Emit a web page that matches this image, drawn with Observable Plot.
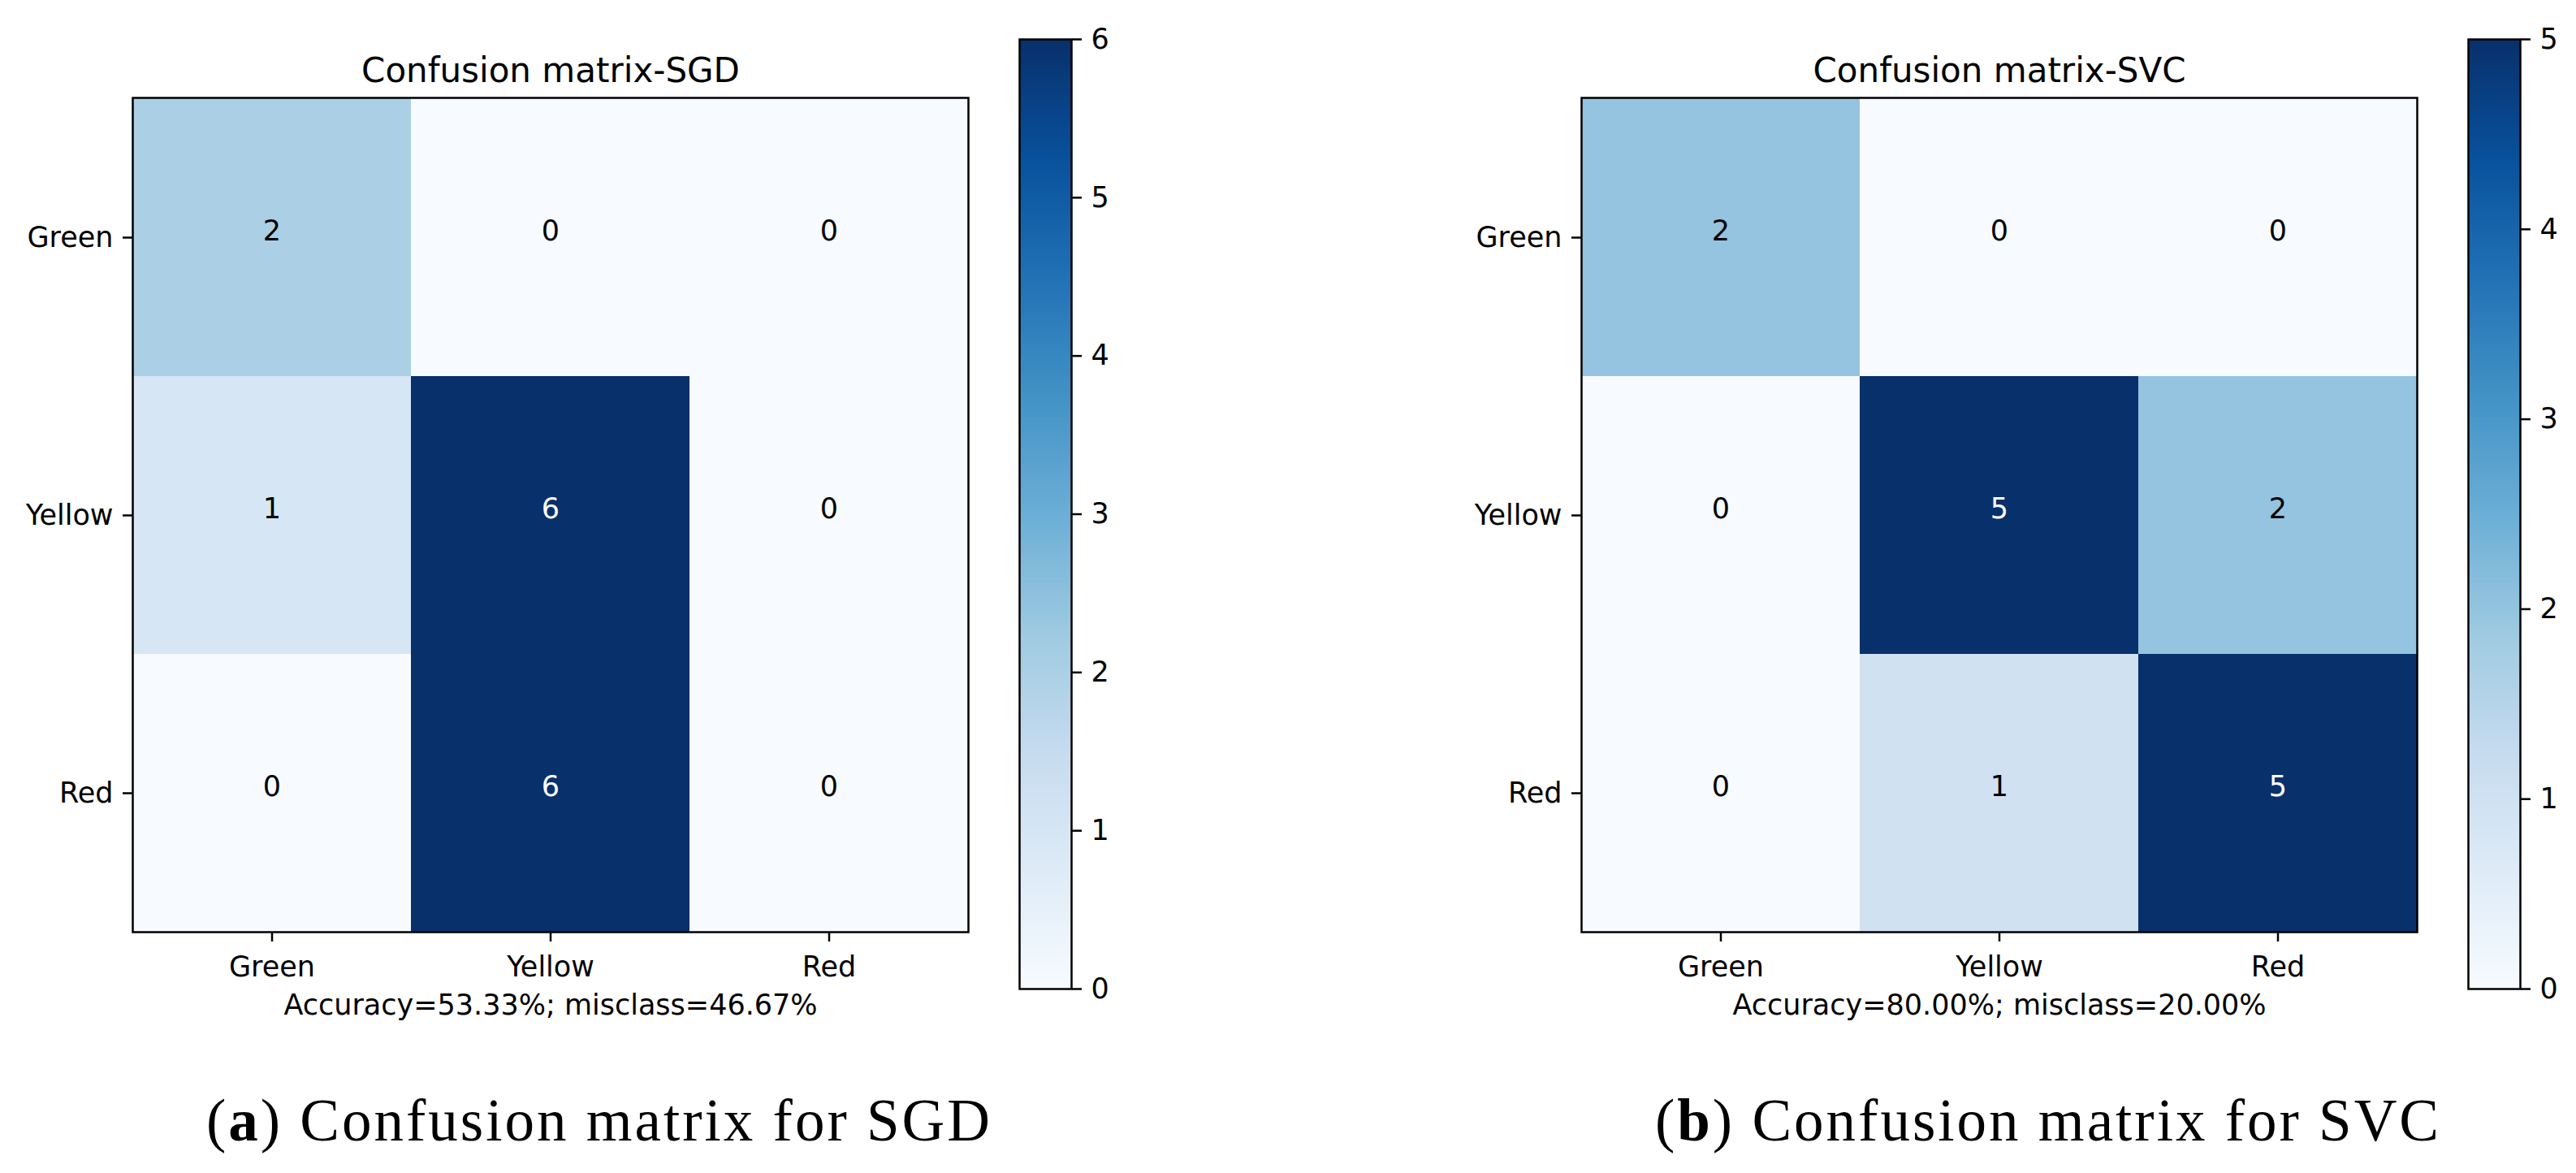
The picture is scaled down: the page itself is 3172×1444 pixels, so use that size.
<!DOCTYPE html>
<html>
<head>
<meta charset="utf-8">
<script src="https://cdn.jsdelivr.net/npm/d3@7"></script>
<script src="https://cdn.jsdelivr.net/npm/@observablehq/plot@0.6"></script>
<style>
  html, body { margin: 0; padding: 0; background: #fff; }
  #page { position: relative; width: 3172px; height: 1444px; background: #fff; overflow: hidden; }
  .abs { position: absolute; }
  .caption { position: absolute; font-family: "Liberation Serif", serif; font-size: 73px; line-height: 73px;
             letter-spacing: 3px; white-space: nowrap; transform: translateX(-50%); color: #000; }
</style>
</head>
<body>
<div id="page"></div>
<script>
// ---- data ----
const classes = ["Green", "Yellow", "Red"];
const sgdValues = [[2, 0, 0], [1, 6, 0], [0, 6, 0]];
const svcValues = [[2, 0, 0], [0, 5, 2], [0, 1, 5]];
const sgdTitle = "Confusion matrix-SGD";
const svcTitle = "Confusion matrix-SVC";
const sgdAccuracy = "Accuracy=53.33%; misclass=46.67%";
const svcAccuracy = "Accuracy=80.00%; misclass=20.00%";
const sgdCaptionLetter = "a", sgdCaptionText = "Confusion matrix for SGD";
const svcCaptionLetter = "b", svcCaptionText = "Confusion matrix for SVC";
const blues9 = ["#f7fbff", "#deebf7", "#c6dbef", "#9ecae1", "#6baed6", "#4292c6", "#2171b5", "#08519c", "#08306b"];

const page = document.getElementById("page");
const baseStyle = { fontFamily: "DejaVu Sans", fontSize: "35px", color: "black", background: "transparent", overflow: "visible" };

function panel(values, title, accuracy, letter, captionText, dx) {
  const max = d3.max(values.flat());
  const data = values.flatMap((row, i) => row.map((v, j) => ({ actual: classes[i], pred: classes[j], value: v })));
  const color = { type: "linear", domain: d3.range(9).map(k => k * max / 8), range: blues9, interpolate: "rgb" };

  const matrix = Plot.plot({
    width: 1230, height: 1290,
    marginLeft: 163, marginRight: 38, marginTop: 120, marginBottom: 143,
    style: baseStyle,
    x: { domain: classes, padding: 0, label: null, axis: null },
    y: { domain: classes, padding: 0, label: null, axis: null },
    color,
    marks: [
      Plot.cell(data, { x: "pred", y: "actual", fill: "value" }),
      Plot.text(data.filter(d => d.value > max / 2), { x: "pred", y: "actual", text: d => String(d.value), fill: "white", dy: -8 }),
      Plot.text(data.filter(d => d.value <= max / 2), { x: "pred", y: "actual", text: d => String(d.value), fill: "black", dy: -8 }),
      Plot.frame({ stroke: "black", strokeWidth: 2.5 }),
      Plot.axisX({ tickSize: 12, tickPadding: 18, strokeWidth: 2.5, label: null }),
      Plot.axisY({ tickSize: 12, tickPadding: 12, strokeWidth: 2.5, label: null }),
      Plot.text([title], { frameAnchor: "top", lineAnchor: "bottom", dy: -20, fontSize: 42, fill: "black" }),
      Plot.text([accuracy], { frameAnchor: "bottom", lineAnchor: "bottom", dy: 101, fill: "black" })
    ]
  });
  matrix.classList.add("abs");
  matrix.style.left = dx + "px";
  matrix.style.top = "0px";
  page.appendChild(matrix);

  const bar = Plot.plot({
    width: 160, height: 1247,
    marginLeft: 5, marginRight: 91, marginTop: 48, marginBottom: 30,
    style: baseStyle,
    x: { domain: [0, 1], axis: null },
    y: { domain: [0, max], axis: null },
    color,
    marks: [
      Plot.raster({ fill: (x, y) => y, x1: 0, x2: 1, y1: 0, y2: max, width: 2, height: 600 }),
      Plot.frame({ stroke: "black", strokeWidth: 2.5 }),
      Plot.axisY({ anchor: "right", ticks: d3.range(0, max + 1), tickFormat: "d", tickSize: 12, tickPadding: 12, strokeWidth: 2.5, label: null })
    ]
  });
  bar.classList.add("abs");
  bar.style.left = (1250 + dx) + "px";
  bar.style.top = "0px";
  page.appendChild(bar);

  const cap = document.createElement("div");
  cap.className = "caption";
  cap.style.left = (738 + dx) + "px";
  cap.style.top = "1343px";
  cap.innerHTML = "(<b>" + letter + "</b>) " + captionText;
  page.appendChild(cap);
}

panel(sgdValues, sgdTitle, sgdAccuracy, sgdCaptionLetter, sgdCaptionText, 0);
panel(svcValues, svcTitle, svcAccuracy, svcCaptionLetter, svcCaptionText, 1784);
</script>
</body>
</html>
